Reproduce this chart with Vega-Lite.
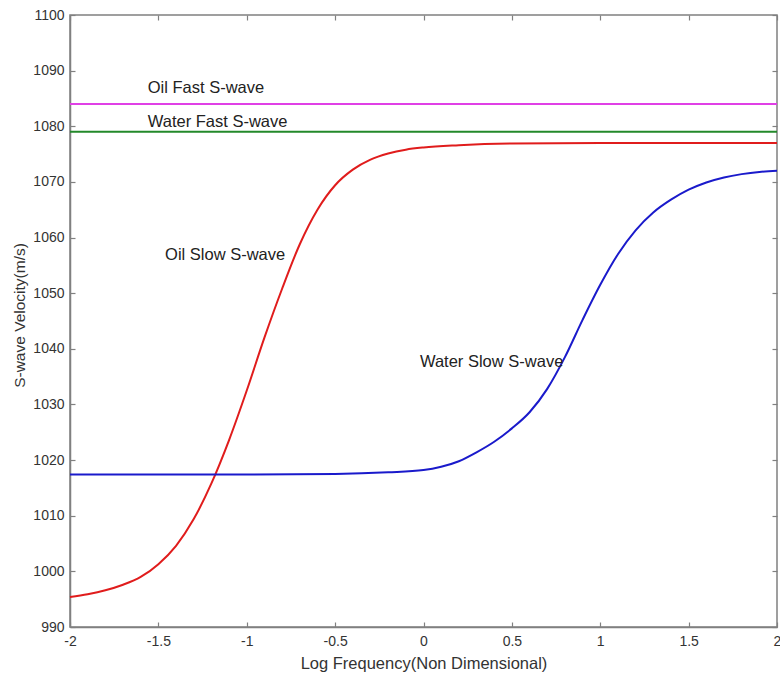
{
  "$schema": "https://vega.github.io/schema/vega-lite/v6.json",
  "width": 707,
  "height": 612,
  "autosize": "none",
  "padding": {"left": 70, "top": 15, "right": 3, "bottom": 51},
  "background": "white",
  "config": {
    "font": "Liberation Sans",
    "view": {"stroke": "#808080", "strokeWidth": 1.5},
    "axis": {
      "grid": false,
      "labelFlush": false,
      "domainColor": "#808080",
      "domainWidth": 1.5,
      "tickColor": "#808080",
      "tickWidth": 1.2,
      "labelColor": "#333333",
      "labelFont": "Liberation Sans",
      "labelFontSize": 14,
      "titleFont": "Liberation Sans",
      "titleFontWeight": "normal",
      "titleColor": "#333333"
    }
  },
  "datasets": {
    "curves": [
      {"series": "Oil Fast", "x": -2, "v": 1084},
      {"series": "Oil Fast", "x": 2, "v": 1084},
      {"series": "Water Fast", "x": -2, "v": 1079},
      {"series": "Water Fast", "x": 2, "v": 1079},
      {"series": "Oil Slow", "x": -2.0, "v": 995.4},
      {"series": "Oil Slow", "x": -1.9, "v": 995.9},
      {"series": "Oil Slow", "x": -1.8, "v": 996.6},
      {"series": "Oil Slow", "x": -1.7, "v": 997.6},
      {"series": "Oil Slow", "x": -1.6, "v": 999.0},
      {"series": "Oil Slow", "x": -1.5, "v": 1001.3},
      {"series": "Oil Slow", "x": -1.4, "v": 1004.6},
      {"series": "Oil Slow", "x": -1.3, "v": 1009.4},
      {"series": "Oil Slow", "x": -1.2, "v": 1015.8},
      {"series": "Oil Slow", "x": -1.1, "v": 1023.6},
      {"series": "Oil Slow", "x": -1.0, "v": 1032.5},
      {"series": "Oil Slow", "x": -0.9, "v": 1042.0},
      {"series": "Oil Slow", "x": -0.8, "v": 1050.8},
      {"series": "Oil Slow", "x": -0.7, "v": 1058.8},
      {"series": "Oil Slow", "x": -0.6, "v": 1065.0},
      {"series": "Oil Slow", "x": -0.5, "v": 1069.4},
      {"series": "Oil Slow", "x": -0.4, "v": 1072.2},
      {"series": "Oil Slow", "x": -0.3, "v": 1074.0},
      {"series": "Oil Slow", "x": -0.2, "v": 1075.1},
      {"series": "Oil Slow", "x": -0.1, "v": 1075.8},
      {"series": "Oil Slow", "x": 0.0, "v": 1076.2},
      {"series": "Oil Slow", "x": 0.2, "v": 1076.6},
      {"series": "Oil Slow", "x": 0.5, "v": 1076.9},
      {"series": "Oil Slow", "x": 1.0, "v": 1077.0},
      {"series": "Oil Slow", "x": 2.0, "v": 1077.0},
      {"series": "Water Slow", "x": -2.0, "v": 1017.4},
      {"series": "Water Slow", "x": -1.0, "v": 1017.4},
      {"series": "Water Slow", "x": -0.5, "v": 1017.5},
      {"series": "Water Slow", "x": -0.2, "v": 1017.8},
      {"series": "Water Slow", "x": 0.0, "v": 1018.2},
      {"series": "Water Slow", "x": 0.1, "v": 1018.8},
      {"series": "Water Slow", "x": 0.2, "v": 1019.8},
      {"series": "Water Slow", "x": 0.3, "v": 1021.4},
      {"series": "Water Slow", "x": 0.4, "v": 1023.3},
      {"series": "Water Slow", "x": 0.5, "v": 1025.7},
      {"series": "Water Slow", "x": 0.6, "v": 1028.6},
      {"series": "Water Slow", "x": 0.7, "v": 1032.8},
      {"series": "Water Slow", "x": 0.8, "v": 1038.5},
      {"series": "Water Slow", "x": 0.9, "v": 1045.2},
      {"series": "Water Slow", "x": 1.0, "v": 1051.5},
      {"series": "Water Slow", "x": 1.1, "v": 1057.0},
      {"series": "Water Slow", "x": 1.2, "v": 1061.3},
      {"series": "Water Slow", "x": 1.3, "v": 1064.5},
      {"series": "Water Slow", "x": 1.4, "v": 1066.8},
      {"series": "Water Slow", "x": 1.5, "v": 1068.6},
      {"series": "Water Slow", "x": 1.6, "v": 1069.9},
      {"series": "Water Slow", "x": 1.7, "v": 1070.8},
      {"series": "Water Slow", "x": 1.8, "v": 1071.4},
      {"series": "Water Slow", "x": 1.9, "v": 1071.8},
      {"series": "Water Slow", "x": 2.0, "v": 1072.0}
    ],
    "labels": [
      {"label": "Oil Fast S-wave", "x": -1.56, "v": 1086.9},
      {"label": "Water Fast S-wave", "x": -1.56, "v": 1080.8},
      {"label": "Oil Slow S-wave", "x": -1.462, "v": 1056.9},
      {"label": "Water Slow S-wave", "x": -0.02, "v": 1037.6}
    ]
  },
  "layer": [
    {
      "data": {"name": "curves"},
      "mark": {"type": "line", "interpolate": "monotone", "strokeWidth": 2},
      "encoding": {
        "x": {
          "field": "x", "type": "quantitative",
          "scale": {"domain": [-2, 2], "nice": false, "zero": false},
          "axis": {"orient": "bottom", "values": [-2, -1.5, -1, -0.5, 0, 0.5, 1, 1.5, 2], "labelExpr": "datum.value + ''", "ticks": false, "labelPadding": 7, "title": "Log Frequency(Non Dimensional)", "titleFontSize": 16.5, "titlePadding": 7}
        },
        "y": {
          "field": "v", "type": "quantitative",
          "scale": {"domain": [990, 1100], "nice": false, "zero": false},
          "axis": {"orient": "left", "values": [990, 1000, 1010, 1020, 1030, 1040, 1050, 1060, 1070, 1080, 1090, 1100], "format": "d", "ticks": false, "labelPadding": 6, "title": "S-wave Velocity(m/s)", "titleFontSize": 15.5, "titleX": -43, "titleY": 300}
        },
        "color": {
          "field": "series", "type": "nominal",
          "scale": {"domain": ["Oil Fast", "Water Fast", "Oil Slow", "Water Slow"], "range": ["#e040e6", "#23892a", "#e01c1c", "#1a1acb"]},
          "legend": null
        }
      }
    },
    {
      "data": {"name": "labels"},
      "mark": {"type": "text", "align": "left", "baseline": "middle", "fontSize": 16.5, "font": "Liberation Sans", "color": "#222222"},
      "encoding": {
        "x": {"field": "x", "type": "quantitative", "axis": {"orient": "bottom", "labels": false, "title": null, "domain": false, "offset": -5, "tickSize": 5, "values": [-2, -1.5, -1, -0.5, 0, 0.5, 1, 1.5, 2]}},
        "y": {"field": "v", "type": "quantitative", "axis": {"orient": "left", "labels": false, "title": null, "domain": false, "offset": -5, "tickSize": 5, "values": [990, 1000, 1010, 1020, 1030, 1040, 1050, 1060, 1070, 1080, 1090, 1100]}},
        "text": {"field": "label"}
      }
    },
    {
      "data": {"name": "labels"},
      "mark": {"type": "point", "opacity": 0},
      "encoding": {
        "x": {"field": "x", "type": "quantitative", "axis": {"orient": "top", "labels": false, "title": null, "domain": false, "offset": -5, "tickSize": 5, "values": [-2, -1.5, -1, -0.5, 0, 0.5, 1, 1.5, 2]}},
        "y": {"field": "v", "type": "quantitative", "axis": {"orient": "right", "labels": false, "title": null, "domain": false, "offset": -5, "tickSize": 5, "values": [990, 1000, 1010, 1020, 1030, 1040, 1050, 1060, 1070, 1080, 1090, 1100]}}
      }
    }
  ],
  "resolve": {"axis": {"x": "independent", "y": "independent"}}
}
